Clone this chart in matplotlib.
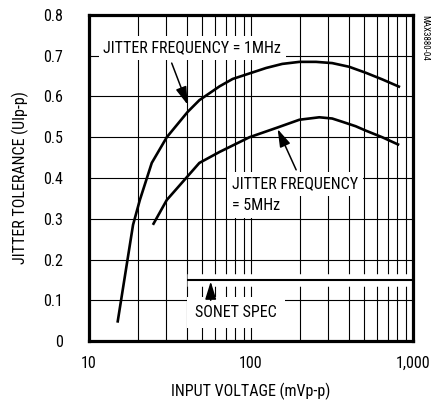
import numpy as np
import matplotlib.pyplot as plt
from matplotlib import font_manager
from matplotlib.ticker import FixedLocator, NullFormatter

# the reference uses a condensed sans; take the first narrow family that exists
installed = {f.name for f in font_manager.fontManager.ttflist}
narrow = [n for n in ['Liberation Sans Narrow', 'Roboto Condensed', 'DejaVu Sans Condensed',
                      'Open Sans Condensed', 'Noto Sans Condensed'] if n in installed]
if narrow:
    plt.rcParams['font.family'] = [narrow[0], 'DejaVu Sans']
    fs = 11.5
else:
    plt.rcParams['font.family'] = ['Roboto', 'DejaVu Sans']
    fs = 10.5

## DATA
v_1mhz = [15, 18.7, 20.6, 24.4, 30.2, 40.6, 48, 64, 77, 124, 156, 199, 252, 317, 403, 513, 646, 832]
jt_1mhz = [0.045, 0.285, 0.346, 0.437, 0.50, 0.562, 0.591, 0.625, 0.643, 0.670, 0.680, 0.685,
           0.685, 0.682, 0.673, 0.658, 0.642, 0.623]

v_5mhz = [24.8, 30.2, 48, 64, 97.8, 146, 199, 264, 317, 366, 443, 513, 646, 822]
jt_5mhz = [0.285, 0.346, 0.437, 0.464, 0.50, 0.524, 0.543, 0.549, 0.546, 0.538, 0.527, 0.516,
           0.500, 0.481]

sonet_v = [40, 1000]
sonet_jt = [0.15, 0.15]

x_ticks = [10, 100, 1000]
x_labels = ['10', '100', '1,000']
y_ticks = [0, 0.1, 0.2, 0.3, 0.4, 0.5, 0.6, 0.7, 0.8]
y_labels = ['0', '0.1', '0.2', '0.3', '0.4', '0.5', '0.6', '0.7', '0.8']

## FIGURE
fig = plt.figure(figsize=(4.33, 4.04), dpi=100)
ax = fig.add_axes([89/433, 63/404, 324/433, 326/404])

ax.set_xscale('log')
ax.set_xlim(10, 1000)
ax.set_ylim(0, 0.8)

minor = [m * d for d in (10, 100) for m in range(2, 10)]
ax.xaxis.set_major_locator(FixedLocator(x_ticks))
ax.xaxis.set_minor_locator(FixedLocator(minor))
ax.xaxis.set_minor_formatter(NullFormatter())
ax.set_xticks(x_ticks, x_labels)
ax.set_yticks(y_ticks, y_labels)
ax.tick_params(which='both', length=0, labelsize=fs)
ax.tick_params(axis='x', pad=11)
ax.tick_params(axis='y', pad=19)

ax.grid(which='both', color='black', lw=0.8)
ax.set_axisbelow(True)
for s in ax.spines.values():
    s.set_linewidth(2.3)
    s.set_zorder(10)

## CURVES
ax.plot(v_1mhz, jt_1mhz, color='black', lw=1.9, zorder=5, solid_capstyle='butt', solid_joinstyle='round')
ax.plot(v_5mhz, jt_5mhz, color='black', lw=1.9, zorder=5, solid_capstyle='butt', solid_joinstyle='round')

# sonet spec line with white halo
ax.plot(sonet_v, sonet_jt, color='white', lw=9, zorder=4, solid_capstyle='butt')
ax.plot(sonet_v, sonet_jt, color='black', lw=1.5, zorder=5, solid_capstyle='butt')

## LABELS
box = dict(facecolor='white', edgecolor='none', boxstyle='square,pad=0.3')
ax.text(43.4, 0.719, 'JITTER FREQUENCY = 1MHz', fontsize=fs, ha='center', va='center',
        bbox=box, zorder=3)
ax.text(76, 0.385, 'JITTER FREQUENCY', fontsize=fs, ha='left', va='center',
        bbox=box, zorder=3)
ax.text(76, 0.332, '= 5MHz', fontsize=fs, ha='left', va='center',
        bbox=box, zorder=3)
ax.text(80.9, 0.071, 'SONET SPEC', fontsize=fs, ha='center', va='center',
        bbox=dict(facecolor='white', edgecolor='none', boxstyle='square,pad=0.5'), zorder=3)

arrow = dict(arrowstyle='-|>,head_length=0.9,head_width=0.28', color='black', lw=1.1,
             mutation_scale=12, shrinkA=0, shrinkB=0)
ax.annotate('', xy=(40.6, 0.58), xytext=(32.4, 0.682), arrowprops=arrow, zorder=6)
ax.annotate('', xy=(146, 0.52), xytext=(190, 0.42), arrowprops=arrow, zorder=6)
ax.annotate('', xy=(56.4, 0.146), xytext=(56.4, 0.10), arrowprops=arrow, zorder=6)

ax.set_xlabel('INPUT VOLTAGE (mVp-p)', fontsize=fs, labelpad=8)
ax.set_ylabel('JITTER TOLERANCE (UIp-p)', fontsize=fs, labelpad=10)

fig.text(425/433, 1 - 15/404, 'MAX3880-04', fontsize=6.5, rotation=270, ha='center', va='top')

fig.savefig('out.png', dpi=100)
